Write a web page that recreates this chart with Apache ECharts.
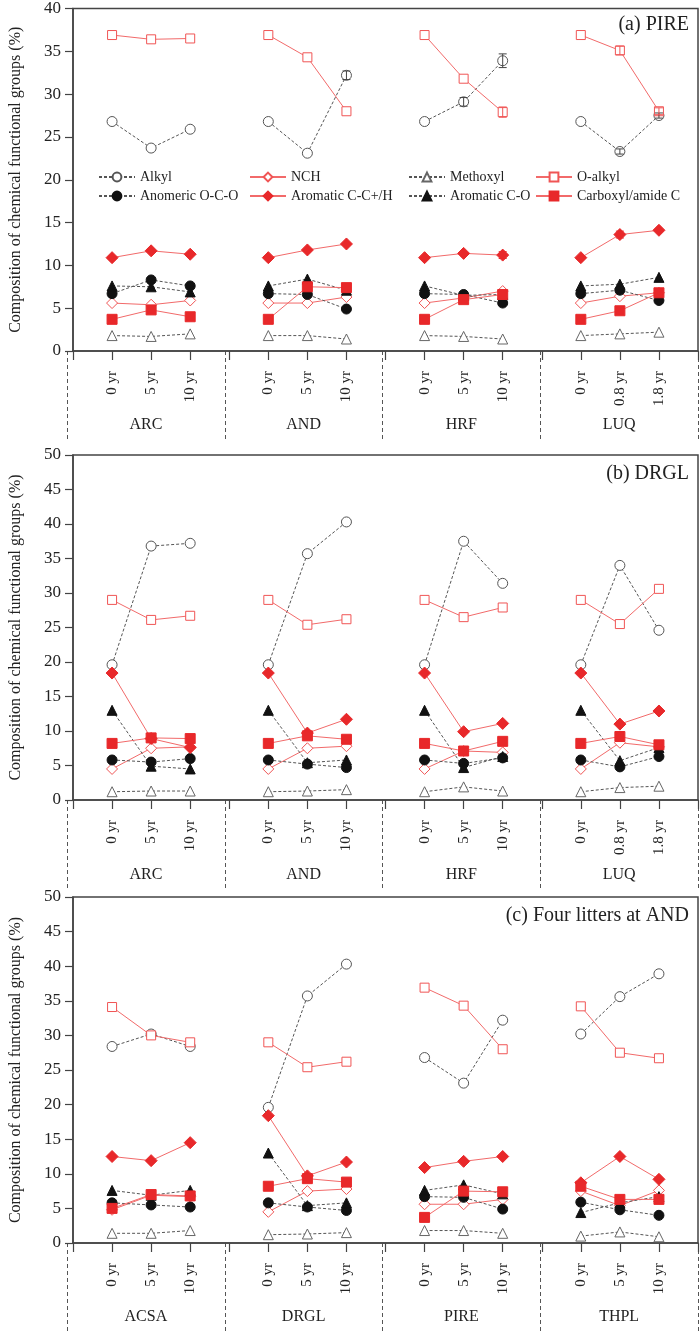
<!DOCTYPE html>
<html><head><meta charset="utf-8">
<script src="https://cdn.jsdelivr.net/npm/echarts@6/dist/echarts.min.js"></script>
<style>html,body{margin:0;padding:0;background:#fff}#c{width:700px;height:1332px}</style>
</head><body><div id="c"></div>
<script>
// ---------- data ----------
const seriesNames = ['Alkyl','NCH','Methoxyl','O-alkyl','Anomeric O-C-O','Aromatic C-C+/H','Aromatic C-O','Carboxyl/amide C'];
const panelTitles = ['(a) PIRE','(b) DRGL','(c) Four litters at AND'];
const yAxisName = 'Composition of chemical functional groups (%)';
const yMax = [40, 50, 50];

const groupsA = ['ARC','AND','HRF','LUQ'];
const groupsB = ['ARC','AND','HRF','LUQ'];
const groupsC = ['ACSA','DRGL','PIRE','THPL'];
const timesA = ['0 yr','5 yr','10 yr','0 yr','5 yr','10 yr','0 yr','5 yr','10 yr','0 yr','0.8 yr','1.8 yr'];
const timesB = ['0 yr','5 yr','10 yr','0 yr','5 yr','10 yr','0 yr','5 yr','10 yr','0 yr','0.8 yr','1.8 yr'];
const timesC = ['0 yr','5 yr','10 yr','0 yr','5 yr','10 yr','0 yr','5 yr','10 yr','0 yr','5 yr','10 yr'];

// panel (a)
const alkylA    = [26.8,23.7,25.9, 26.8,23.1,32.2, 26.8,29.1,33.9, 26.8,23.3,27.5];
const nchA      = [5.6,5.4,5.9, 5.6,5.6,6.3, 5.6,6.2,7.0, 5.6,6.4,6.8];
const methoxylA = [1.8,1.7,2.0, 1.8,1.8,1.4, 1.8,1.7,1.4, 1.8,2.0,2.2];
const oalkylA   = [36.9,36.4,36.5, 36.9,34.3,28.0, 36.9,31.8,27.9, 36.9,35.1,28.0];
const anomericA = [6.7,8.3,7.6, 6.7,6.6,4.9, 6.7,6.6,5.6, 6.7,7.1,5.9];
const aromCCA   = [10.9,11.7,11.3, 10.9,11.8,12.5, 10.9,11.4,11.2, 10.9,13.6,14.1];
const aromCOA   = [7.6,7.5,6.9, 7.6,8.4,7.1, 7.6,6.5,6.6, 7.6,7.8,8.6];
const carboxylA = [3.7,4.8,4.0, 3.7,7.5,7.4, 3.7,6.0,6.6, 3.7,4.7,6.8];
// visible error bars (±) in panel (a)
const errAlkylA  = [0,0,0, 0,0,0.5, 0,0.5,0.8, 0,0.3,0.3];
const errOalkylA = [0,0,0, 0,0,0, 0,0,0.6, 0,0.5,0.4];
const errAromCCA = [0,0,0, 0,0,0, 0,0,0.4, 0,0.4,0];

// panel (b)
const alkylB    = [19.6,36.8,37.2, 19.6,35.7,40.3, 19.6,37.5,31.4, 19.6,34.0,24.6];
const nchB      = [4.5,7.5,7.7, 4.5,7.5,7.8, 4.5,7.1,6.9, 4.5,8.3,7.7];
const methoxylB = [1.2,1.3,1.3, 1.2,1.3,1.5, 1.2,1.9,1.3, 1.2,1.8,2.0];
const oalkylB   = [29.0,26.1,26.7, 29.0,25.4,26.2, 29.0,26.5,27.9, 29.0,25.5,30.6];
const anomericB = [5.8,5.5,6.0, 5.8,5.2,4.7, 5.8,5.3,6.1, 5.8,4.8,6.3];
const aromCCB   = [18.4,8.9,7.6, 18.4,9.7,11.7, 18.4,9.9,11.1, 18.4,11.0,12.9];
const aromCOB   = [13.0,4.9,4.5, 13.0,5.4,5.8, 13.0,4.7,6.3, 13.0,5.7,7.6];
const carboxylB = [8.2,9.0,8.9, 8.2,9.3,8.8, 8.2,7.1,8.5, 8.2,9.2,8.0];

// panel (c)
const alkylC    = [28.4,30.2,28.4, 19.6,35.7,40.3, 26.8,23.1,32.2, 30.2,35.6,38.9];
const nchC      = [4.8,6.9,6.7, 4.5,7.5,7.8, 5.6,5.6,6.3, 7.5,5.4,7.6];
const methoxylC = [1.4,1.4,1.8, 1.2,1.3,1.5, 1.8,1.8,1.4, 1.0,1.6,0.9];
const oalkylC   = [34.1,30.0,29.0, 29.0,25.4,26.2, 36.9,34.3,28.0, 34.2,27.5,26.7];
const anomericC = [5.8,5.5,5.2, 5.8,5.2,4.7, 6.7,6.6,4.9, 5.9,4.8,4.0];
const aromCCC   = [12.5,11.9,14.5, 18.4,9.7,11.7, 10.9,11.8,12.5, 8.7,12.5,9.2];
const aromCOC   = [7.6,6.9,7.6, 13.0,5.4,5.8, 7.6,8.4,7.1, 4.4,5.8,6.7];
const carboxylC = [5.0,7.0,6.8, 8.2,9.3,8.8, 3.7,7.5,7.4, 8.2,6.3,6.3];

const panelData = [
  [alkylA,nchA,methoxylA,oalkylA,anomericA,aromCCA,aromCOA,carboxylA],
  [alkylB,nchB,methoxylB,oalkylB,anomericB,aromCCB,aromCOB,carboxylB],
  [alkylC,nchC,methoxylC,oalkylC,anomericC,aromCCC,aromCOC,carboxylC]
];
const panelErrors = [
  [{vals:alkylA, err:errAlkylA, color:'#444'}, {vals:oalkylA, err:errOalkylA, color:'#f05555'}, {vals:aromCCA, err:errAromCCA, color:'#e8282a'}],
  [],
  []
];
const panelGroups = [groupsA, groupsB, groupsC];
const panelTimes = [timesA, timesB, timesC];

// ---------- styles ----------
const FONT = '"Liberation Serif","Times New Roman",serif';
const TXT = '#222';
const AX = '#444';
const GRAY = '#555';
const RED_L = '#f26a6a';
const RED_F = '#e8282a';
const styles = [
  {symbol:'circle',   size:10, fill:'#fff', border:GRAY,  line:GRAY,  dash:[3,2]},
  {symbol:'diamond',  size:11, fill:'#fff', border:'#f05555', line:RED_L, dash:'solid'},
  {symbol:'triangle', size:10, fill:'#fff', border:'#666', line:GRAY,  dash:[3,2]},
  {symbol:'rect',     size:9,  fill:'#fff', border:'#f05555', line:RED_L, dash:'solid'},
  {symbol:'circle',   size:10, fill:'#111', border:'#111', line:GRAY,  dash:[3,2]},
  {symbol:'diamond',  size:12, fill:RED_F, border:RED_F, line:RED_L, dash:'solid'},
  {symbol:'triangle', size:10, fill:'#111', border:'#111', line:GRAY,  dash:[3,2]},
  {symbol:'rect',     size:10, fill:RED_F, border:RED_F, line:RED_L, dash:'solid'}
];

// ---------- layout ----------
const layout = [
  {top:6,   h:345, lblH:89},
  {top:455, h:345, lblH:90},
  {top:897, h:346, lblH:89}
];
const LEFT = 67, WIDTH = 631;
const xPos = k => Math.floor(k/3)*4 + (k%3) + 1;
const tickXs = Array.from({length:12}, (_,k) => xPos(k));
const groupXs = [2,6,10,14];

function buildData(vals){
  const out = [];
  for (let g=0; g<4; g++){
    for (let i=0; i<3; i++) out.push([g*4+i+1, vals[g*3+i]]);
    if (g<3) out.push([g*4+4, '-']);
  }
  return out;
}

const grid = [], xAxis = [], yAxis = [], series = [], title = [];
layout.forEach((L, p) => {
  const gMain = p*2, gLbl = p*2+1;
  grid.push({left:LEFT, width:WIDTH, top:L.top, height:L.h, show:true, borderColor:AX, borderWidth:1.5, backgroundColor:'transparent'});
  grid.push({left:LEFT, width:WIDTH, top:L.top+L.h, height:L.lblH, show:false});
  const tLabels = panelTimes[p];
  const grp = panelGroups[p];
  xAxis.push({
    gridIndex:gMain, type:'value', min:0, max:16, interval:1,
    axisLine:{show:true, onZero:false, lineStyle:{color:AX, width:1.5}},
    axisTick:{show:true, inside:false, length:9, lineStyle:{color:AX, width:1.2}},
    splitLine:{show:false},
    axisLabel:{show:true, customValues:tickXs, rotate:90, margin:20, fontSize:15, fontFamily:FONT, color:TXT,
      formatter: v => tLabels[tickXs.indexOf(v)] || ''}
  });
  xAxis.push({
    gridIndex:gLbl, type:'value', min:0, max:16, interval:4,
    axisLine:{show:false}, axisTick:{show:false},
    splitLine:{show:true, lineStyle:{color:GRAY, width:1, type:[4,3]}},
    axisLabel:{show:true, inside:true, customValues:groupXs, margin:7, fontSize:16, fontFamily:FONT, color:TXT,
      formatter: v => grp[groupXs.indexOf(v)] || ''}
  });
  yAxis.push({
    gridIndex:gMain, type:'value', min:0, max:yMax[p], interval:5,
    axisLine:{show:true, lineStyle:{color:AX, width:1.5}},
    axisTick:{show:true, inside:false, length:8, lineStyle:{color:AX, width:1.2}},
    splitLine:{show:false},
    axisLabel:{fontSize:17, fontFamily:FONT, color:TXT, margin:12},
    name:yAxisName, nameLocation:'middle', nameGap:49,
    nameTextStyle:{fontSize:16, fontFamily:FONT, color:TXT}
  });
  yAxis.push({gridIndex:gLbl, type:'value', min:0, max:1, show:false});
  title.push({text:panelTitles[p], right:6, top:L.top+4,
    textStyle:{fontSize:20, fontWeight:'normal', fontFamily:FONT, color:TXT}});
  panelData[p].forEach((vals, s) => {
    const st = styles[s];
    series.push({
      name:seriesNames[s], type:'line', xAxisIndex:gMain, yAxisIndex:gMain,
      data:buildData(vals), connectNulls:false,
      symbol:st.symbol, symbolSize:st.size,
      itemStyle:{color:st.fill, borderColor:st.border, borderWidth:1},
      lineStyle:{color:st.line, width:1, type:st.dash},
      z: st.fill === '#fff' ? 3 : 4,
      emphasis:{disabled:true}
    });
  });
  panelErrors[p].forEach(e => {
    const d = [];
    e.vals.forEach((v, k) => { if (e.err[k] > 0) d.push([xPos(k), v - e.err[k], v + e.err[k]]); });
    series.push({
      type:'custom', xAxisIndex:gMain, yAxisIndex:gMain, data:d, z:5, silent:true,
      renderItem:(params, api) => {
        const lo = api.coord([api.value(0), api.value(1)]);
        const hi = api.coord([api.value(0), api.value(2)]);
        const w = 4;
        const s = {stroke:e.color, lineWidth:1};
        return {type:'group', children:[
          {type:'line', shape:{x1:lo[0], y1:lo[1], x2:hi[0], y2:hi[1]}, style:s},
          {type:'line', shape:{x1:lo[0]-w, y1:lo[1], x2:lo[0]+w, y2:lo[1]}, style:s},
          {type:'line', shape:{x1:hi[0]-w, y1:hi[1], x2:hi[0]+w, y2:hi[1]}, style:s}
        ]};
      }
    });
  });
});

const legendCols = [
  {left:93,  data:['Alkyl','Anomeric O-C-O']},
  {left:244, data:['NCH','Aromatic C-C+/H']},
  {left:403, data:['Methoxyl','Aromatic C-O']},
  {left:530, data:['O-alkyl','Carboxyl/amide C']}
];
const legend = legendCols.map(c => ({
  left:c.left, top:165, orient:'vertical', itemGap:5, itemWidth:36, itemHeight:11,
  selectedMode:false, data:c.data,
  textStyle:{fontSize:14, fontFamily:FONT, color:TXT}
}));

const chart = echarts.init(document.getElementById('c'), null, {renderer:'canvas'});
chart.setOption({animation:false, backgroundColor:'#fff', title, legend, grid, xAxis, yAxis, series});
</script></body></html>
